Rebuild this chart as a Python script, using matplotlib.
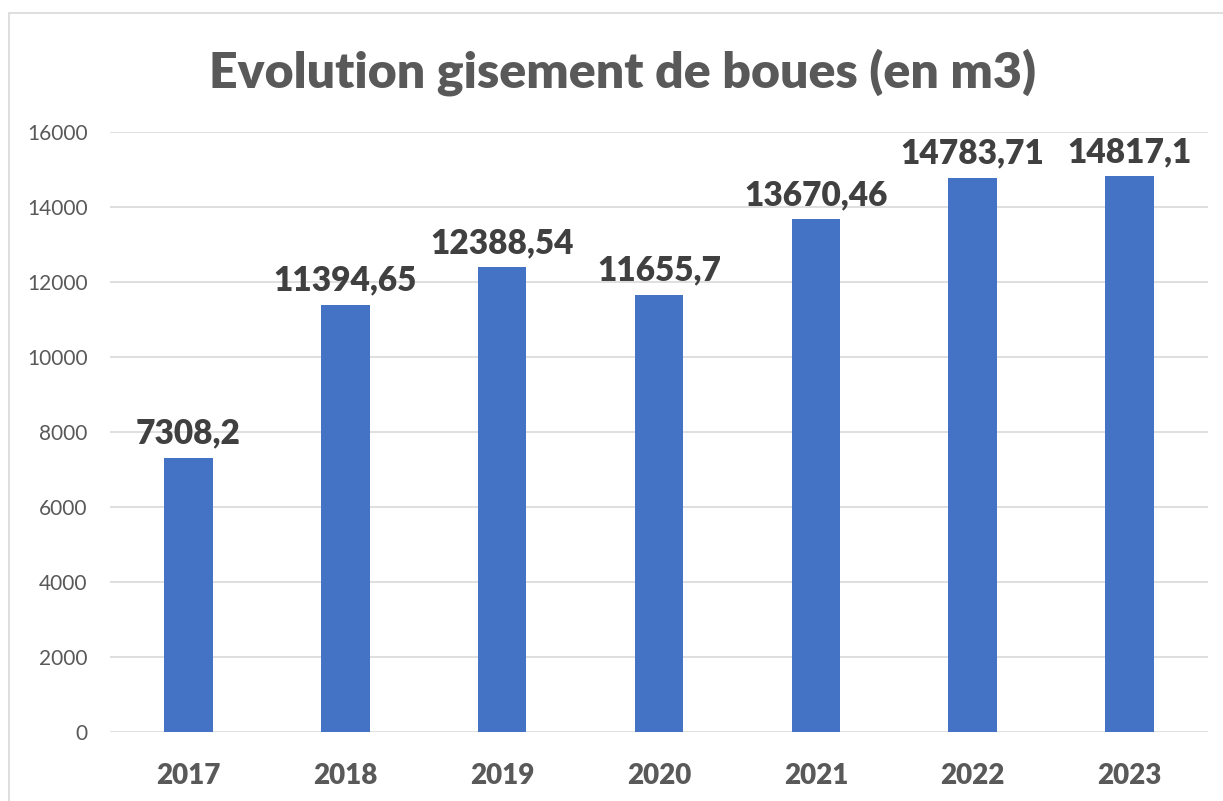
import matplotlib.pyplot as plt
from matplotlib.patches import Rectangle
import numpy as np

plt.rcParams['font.family'] = ['Lato', 'DejaVu Sans']

# data
years = ['2017', '2018', '2019', '2020', '2021', '2022', '2023']
volumes = [7308.2, 11394.65, 12388.54, 11655.7, 13670.46, 14783.71, 14817.1]
labels = ['7308,2', '11394,65', '12388,54', '11655,7', '13670,46', '14783,71', '14817,1']
yticks = [0, 2000, 4000, 6000, 8000, 10000, 12000, 14000, 16000]

W, H = 1223, 801
fig = plt.figure(figsize=(W / 100, H / 100), dpi=100)

# chart frame (left and top edges visible)
fig.patches.append(Rectangle((9 / W, -0.1), 1.2, 1 - 13 / H + 0.1,
                             transform=fig.transFigure, fill=False,
                             edgecolor='#d9d9d9', linewidth=1.2))

ax = fig.add_axes([110 / W, 1 - 732 / H, (1208 - 110) / W, 600 / H])
x = np.arange(len(years))
ax.bar(x, volumes, width=0.31, color='#4472c4', zorder=3)

for xi, v, lab in zip(x, volumes, labels):
    ax.annotate(lab, (xi, v), xytext=(0, 6), textcoords='offset points',
                ha='center', va='bottom', fontsize=24, fontweight='heavy',
                color='#404040')

ax.set_xlim(-0.5, len(years) - 0.5)
ax.set_ylim(0, 16000)
ax.set_yticks(yticks)
ax.set_yticklabels([str(t) for t in yticks], fontsize=15, color='#595959')
ax.set_xticks(x)
ax.set_xticklabels(years, fontsize=20, fontweight='heavy', color='#595959')
ax.tick_params(axis='both', length=0)
ax.tick_params(axis='x', pad=22)
ax.tick_params(axis='y', pad=16)
ax.grid(axis='y', color='#d9d9d9', linewidth=1.2, zorder=0)
for s in ax.spines.values():
    s.set_visible(False)

fig.text(0.5 * (215 + 1030) / W, 1 - 72 / H, 'Evolution gisement de boues (en m3)',
         ha='center', va='center', fontsize=36, fontweight='heavy', color='#595959')

fig.savefig('out.png', dpi=100)
